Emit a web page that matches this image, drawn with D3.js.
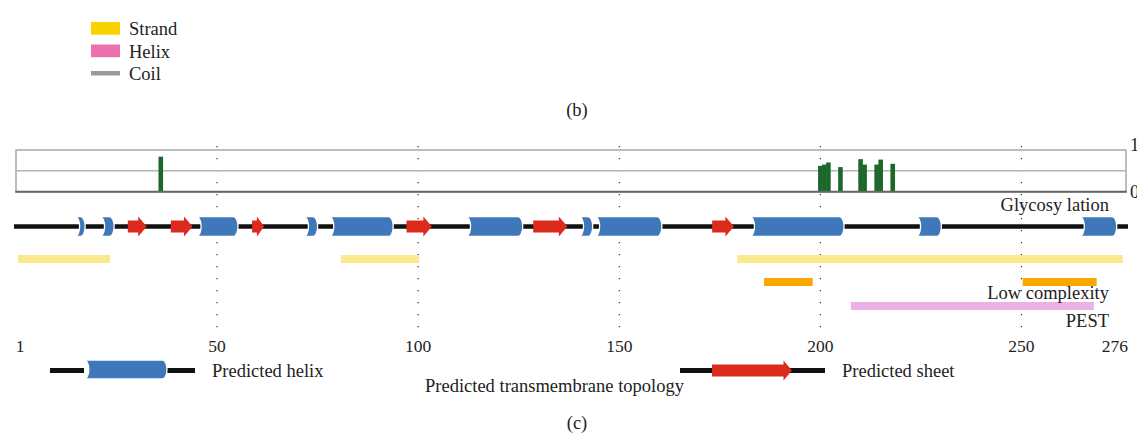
<!DOCTYPE html>
<html>
<head>
<meta charset="utf-8">
<script src="https://cdn.jsdelivr.net/npm/d3@7"></script>
<style>
  body { margin: 0; background: #fff; }
  svg { display: block; font-family: "Liberation Serif", "DejaVu Serif", serif; }
</style>
</head>
<body>
<div id="container"></div>
<script>
const chartWidth = 1137
const chartHeight = 439

// Data (residue positions 0..276)
const seqLength = 276;
const axisTicks = [1, 50, 100, 150, 200, 250, 276];
const gridTicks = [50, 100, 150, 200, 250];

// Glycosylation score panel
const glycoSites = [36, 200, 201, 202, 205, 210, 211, 214, 215, 218];
const glycoScores = [0.84, 0.62, 0.65, 0.70, 0.59, 0.78, 0.65, 0.65, 0.77, 0.67];
const glycoTicks = [0, 1];

// Predicted helices / sheets on the topology track
const helixStart = [14.7, 20.9, 44.9, 71.6, 77.9, 111.9, 140.0, 144.0, 182.5, 223.8, 264.5];
const helixEnd   = [17.2, 24.4, 55.2, 75.0, 93.8, 126.0, 143.4, 160.6, 205.9, 230.1, 273.7];
const sheetStart = [27.8, 38.5, 58.7, 97.1, 128.6, 173.1];
const sheetEnd   = [32.5, 43.9, 61.7, 103.4, 137.1, 178.5];

// Region bars
const regionStart = [0.5, 80.8, 179.3];
const regionEnd   = [23.4, 100.2, 275.2];
const lowCompStart = [186.0, 250.3];
const lowCompEnd   = [198.1, 268.7];
const pestStart = [207.6];
const pestEnd   = [268.0];

// Legend for panel (b)
const ssLabels = ["Strand", "Helix", "Coil"];
const ssColors = ["#f9d300", "#ec70ad", "#999999"];

const BLUE = "#3f78ba";
const RED = "#dc2a1d";
const GREEN = "#1c682b";
const FONT = "18.5px";

var svg = d3.select("#container")
    .append("svg")
    .attr("width", chartWidth)
    .attr("height", chartHeight);

var x = d3.scaleLinear().domain([0, seqLength]).range([16, 1126]);

// ---------- legend of panel (b)
ssLabels.forEach((lab, i) => {
    let y0 = 22 + i * 22.5;
    if (lab == "Coil")
        svg.append("rect").attr("x", 91).attr("y", y0 + 4).attr("width", 29).attr("height", 4.5).attr("fill", ssColors[i]);
    else
        svg.append("rect").attr("x", 91).attr("y", y0).attr("width", 29).attr("height", 12.7).attr("fill", ssColors[i]);
    svg.append("text")
        .attr("x", 129).attr("y", y0 + 13)
        .style("font-size", FONT)
        .attr("fill", "#222")
        .text(lab);
});

svg.append("text").attr("x", 577).attr("y", 116).attr("text-anchor", "middle")
    .style("font-size", FONT).attr("fill", "#222").text("(b)");

// ---------- dotted vertical grid
svg.append("g").selectAll("line")
    .data(gridTicks)
    .join("line")
    .attr("x1", d => x(d)).attr("x2", d => x(d))
    .attr("y1", 146).attr("y2", 332)
    .attr("stroke", "#333")
    .attr("stroke-width", 1.2)
    .attr("stroke-dasharray", "1.2 10.8");

// ---------- glycosylation panel
var boxTop = 150, boxBottom = 191.7;
var y = d3.scaleLinear().domain([0, 1]).range([boxBottom, boxTop]);

var box = svg.append("g");
box.append("rect")
    .attr("x", x(0)).attr("y", y(1))
    .attr("width", x(seqLength) - x(0)).attr("height", y(0) - y(1))
    .attr("fill", "none").attr("stroke", "#a8a8a8").attr("stroke-width", 1.5);
box.append("line")
    .attr("x1", x(0)).attr("x2", x(seqLength))
    .attr("y1", y(0.5)).attr("y2", y(0.5))
    .attr("stroke", "#b3b3b3").attr("stroke-width", 1.5);

box.selectAll("rect.bar")
    .data(glycoSites)
    .join("rect")
    .attr("class", "bar")
    .attr("x", d => x(d - 0.57))
    .attr("width", d => x(d + 0.57) - x(d - 0.57))
    .attr("y", (d, i) => y(glycoScores[i]))
    .attr("height", (d, i) => y(0) - y(glycoScores[i]))
    .attr("fill", GREEN);

box.append("line")
    .attr("x1", x(0) - 0.75).attr("x2", x(seqLength) + 0.75)
    .attr("y1", y(0)).attr("y2", y(0))
    .attr("stroke", "#666").attr("stroke-width", 2);

var yAxis = box.append("g")
    .attr("transform", "translate(" + (x(seqLength) + 2) + ",0)")
    .call(d3.axisRight(y).tickValues(glycoTicks).tickSize(0).tickPadding(2));
yAxis.select(".domain").remove();
yAxis.selectAll("text")
    .style("font-family", "'Liberation Serif', serif")
    .style("font-size", FONT)
    .attr("fill", "#222");
yAxis.selectAll(".tick").filter(d => d == 1).select("text").attr("dy", "0.05em");

// ---------- topology track
var trackY = 226.5;
svg.append("line")
    .attr("x1", x(0) - 2).attr("x2", x(seqLength) + 2)
    .attr("y1", trackY).attr("y2", trackY)
    .attr("stroke", "#111").attr("stroke-width", 4.5);

function helixPath(x0, x1, cy, h)
{
    let c = Math.min(4.5, (x1 - x0) / 2);
    let t = cy - h / 2, b = cy + h / 2;
    return "M" + x0 + "," + t +
        " L" + (x1 - c) + "," + t +
        " A" + c + "," + (h / 2) + " 0 0 1 " + (x1 - c) + "," + b +
        " L" + x0 + "," + b +
        " A" + c + "," + (h / 2) + " 0 0 0 " + x0 + "," + t + " Z";
}

function arrowPath(x0, x1, cy, shaft, head, headLen)
{
    let hl = Math.min(headLen, (x1 - x0) * 0.6);
    return "M" + x0 + "," + (cy - shaft / 2) +
        " L" + (x1 - hl) + "," + (cy - shaft / 2) +
        " L" + (x1 - hl) + "," + (cy - head / 2) +
        " L" + x1 + "," + cy +
        " L" + (x1 - hl) + "," + (cy + head / 2) +
        " L" + (x1 - hl) + "," + (cy + shaft / 2) +
        " L" + x0 + "," + (cy + shaft / 2) + " Z";
}

svg.append("g").selectAll("path")
    .data(helixStart)
    .join("path")
    .attr("d", (d, i) => helixPath(x(d), x(helixEnd[i]), trackY, 20))
    .attr("fill", BLUE)
    .attr("stroke", "#fff")
    .attr("stroke-width", 1.3);

svg.append("g").selectAll("path")
    .data(sheetStart)
    .join("path")
    .attr("d", (d, i) => arrowPath(x(d), x(sheetEnd[i]), trackY, 12, 20, 8.5))
    .attr("fill", RED);

// ---------- region bars
function regionBars(starts, ends, cy, color)
{
    svg.append("g").selectAll("rect")
        .data(starts)
        .join("rect")
        .attr("x", d => x(d))
        .attr("width", (d, i) => x(ends[i]) - x(d))
        .attr("y", cy - 4)
        .attr("height", 8)
        .attr("fill", color);
}
regionBars(regionStart, regionEnd, 259, "#fce98e");
regionBars(lowCompStart, lowCompEnd, 282, "#f9a800");
regionBars(pestStart, pestEnd, 306, "#e9b1e5");

function label(txt, xx, yy, anchor)
{
    svg.append("text")
        .attr("x", xx).attr("y", yy)
        .attr("text-anchor", anchor || "start")
        .style("font-size", FONT)
        .attr("fill", "#222")
        .text(txt);
}
label("Glycosy lation", 1109, 211, "end");
label("Low complexity", 1109, 299, "end");
label("PEST", 1109, 326.5, "end");

// ---------- residue axis labels
svg.append("g").selectAll("text")
    .data(axisTicks)
    .join("text")
    .attr("x", d => d == seqLength ? x(d) + 2 : x(d))
    .attr("y", 351.5)
    .attr("text-anchor", d => d == seqLength ? "end" : "middle")
    .style("font-size", "17.5px")
    .attr("fill", "#222")
    .text(d => d);

// ---------- bottom legend
var legY = 370.5;
svg.append("line").attr("x1", 50).attr("x2", 84).attr("y1", legY).attr("y2", legY)
    .attr("stroke", "#111").attr("stroke-width", 5);
svg.append("line").attr("x1", 164).attr("x2", 195).attr("y1", legY).attr("y2", legY)
    .attr("stroke", "#111").attr("stroke-width", 5);
svg.append("path").attr("d", helixPath(84.3, 167, legY - 1, 19))
    .attr("fill", BLUE).attr("stroke", "#fff").attr("stroke-width", 1.3);
label("Predicted helix", 212, 377);

svg.append("line").attr("x1", 680).attr("x2", 825).attr("y1", legY).attr("y2", legY)
    .attr("stroke", "#111").attr("stroke-width", 5);
svg.append("path").attr("d", arrowPath(712, 792, legY, 12, 20, 8.5))
    .attr("fill", RED);
label("Predicted sheet", 842, 377);

label("Predicted transmembrane topology", 425, 391.5);
label("(c)", 577, 429, "middle");
</script>
</body>
</html>
